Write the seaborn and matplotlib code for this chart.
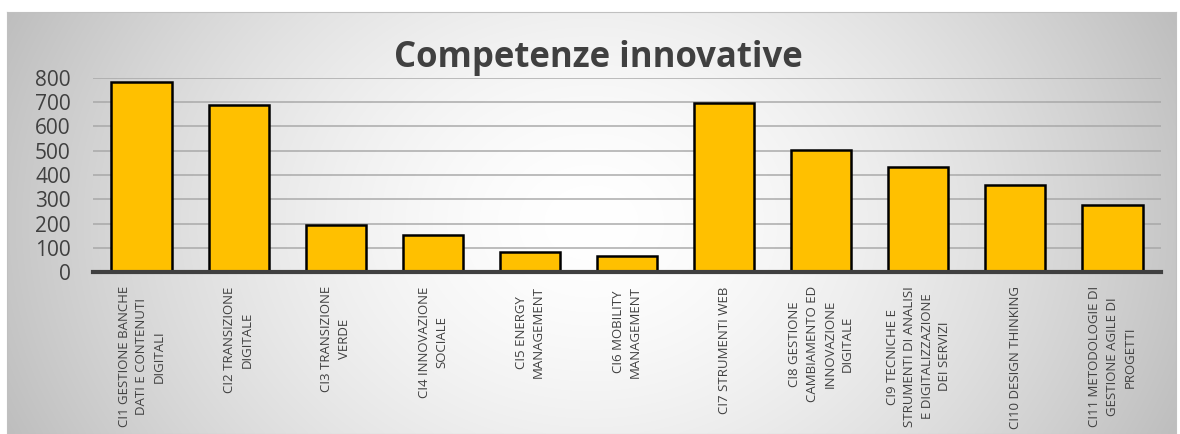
import numpy as np
import pandas as pd
import matplotlib
matplotlib.use("Agg")
import matplotlib.pyplot as plt
import seaborn as sns

categories = [
    "CI1 GESTIONE BANCHE\nDATI E CONTENUTI\nDIGITALI",
    "CI2 TRANSIZIONE\nDIGITALE",
    "CI3 TRANSIZIONE\nVERDE",
    "CI4 INNOVAZIONE\nSOCIALE",
    "CI5 ENERGY\nMANAGEMENT",
    "CI6 MOBILITY\nMANAGEMENT",
    "CI7 STRUMENTI WEB",
    "CI8 GESTIONE\nCAMBIAMENTO ED\nINNOVAZIONE\nDIGITALE",
    "CI9 TECNICHE E\nSTRUMENTI DI ANALISI\nE DIGITALIZZAZIONE\nDEI SERVIZI",
    "CI10 DESIGN THINKING",
    "CI11 METODOLOGIE DI\nGESTIONE AGILE DI\nPROGETTI",
]
values = [783, 688, 196, 153, 83, 66, 697, 503, 434, 359, 278]
yticks = [0, 100, 200, 300, 400, 500, 600, 700, 800]
title = "Competenze innovative"

sns.set_theme(style="white")
plt.rcParams['font.family'] = ['Open Sans', 'DejaVu Sans']

W, H = 11.8, 4.34
fig = plt.figure(figsize=(W, H), dpi=100)
fig.patch.set_facecolor("white")

# background gradient panel
x0, y0, x1, y1 = 7, 12, 1176, 434
bg = fig.add_axes([x0 / 1180, 1 - y1 / 434, (x1 - x0) / 1180, (y1 - y0) / 434], zorder=0)
nx, ny = 400, 150
gx = np.linspace(-1, 1, nx)
gy = np.linspace(-1, 1, ny)
GX, GY = np.meshgrid(gx, gy)
r = np.sqrt((GX * 1.0) ** 2 + (GY * 0.45) ** 2)
shade = 1.0 - 0.22 * np.clip(r, 0, 1.2) ** 1.6
img = np.dstack([shade, shade, shade])
bg.imshow(img, aspect="auto", extent=[0, 1, 0, 1], interpolation="bicubic")
bg.set_xticks([]); bg.set_yticks([])
for s in bg.spines.values():
    s.set_color("#c0c0c0"); s.set_linewidth(0.8)

# main axes
left, right, top, bottom = 93, 1161, 77.7, 272.3
ax = fig.add_axes([left / 1180, 1 - bottom / 434, (right - left) / 1180, (bottom - top) / 434], zorder=2)
ax.patch.set_alpha(0)

df = pd.DataFrame({"cat": categories, "val": values})
sns.barplot(data=df, x="cat", y="val", color="#FFC000", saturation=1, width=0.62,
            edgecolor="black", linewidth=1.8, ax=ax, zorder=3)

ax.set_ylim(0, 800)
ax.set_xlim(-0.5, len(categories) - 0.5)
ax.set_yticks(yticks)
ax.set_yticklabels([str(t) for t in yticks], fontsize=15, color="#404040")
ax.set_xticks(range(len(categories)))
ax.set_xticklabels(categories, rotation=90, fontsize=9.5, color="#404040",
                   ha="center", va="top", multialignment="center", linespacing=1.45)
ax.tick_params(axis="y", length=0, pad=16)
ax.tick_params(axis="x", length=0, pad=10)
ax.set_xlabel(""); ax.set_ylabel("")
ax.yaxis.grid(True, color="#a6a6a6", linewidth=1.3, alpha=0.8)
ax.set_axisbelow(True)
for side in ["top", "right", "left"]:
    ax.spines[side].set_visible(False)
ax.spines["bottom"].set_color("#404040")
ax.spines["bottom"].set_linewidth(3)
ax.spines["bottom"].set_zorder(4)

fig.text(598 / 1180, 1 - 58 / 434, title, ha="center", va="center",
         fontsize=25, fontweight="bold", color="#404040", zorder=5)

fig.savefig("out.png", dpi=100)
